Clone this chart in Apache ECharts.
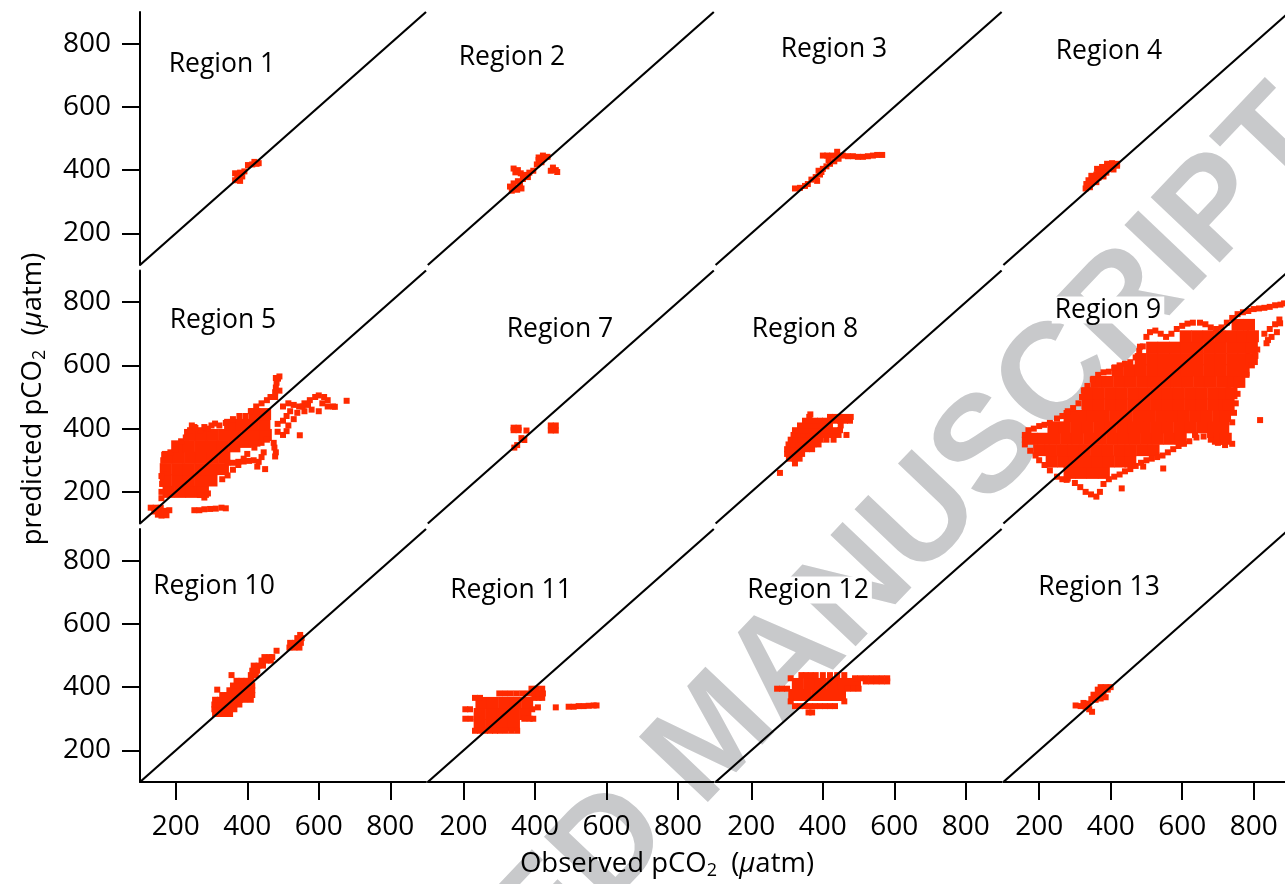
<!DOCTYPE html>
<html>
<head>
<meta charset="utf-8">
<script src="https://cdn.jsdelivr.net/npm/echarts@6/dist/echarts.min.js"></script>
<style>
  html, body { margin: 0; padding: 0; background: #ffffff; }
  #chart { width: 1285px; height: 884px; }
</style>
</head>
<body>
<div id="chart"></div>
<script>
// ---- axis settings (pCO2, µatm) ----
const axisMin = 100;
const axisMax = 900;
const tickValues = [200, 400, 600, 800];

// ---- panel titles, row by row ----
const panelNames = ['Region 1', 'Region 2', 'Region 3', 'Region 4',
                    'Region 5', 'Region 7', 'Region 8', 'Region 9',
                    'Region 10', 'Region 11', 'Region 12', 'Region 13'];

// ---- observed vs predicted pCO2 pairs, [observed, predicted] ----
const r1 = [[366,368],[380,366],[372,378],[386,380],[366,390],[380,392],[392,396],[402,416],[414,418],[426,420],[432,422],[420,426]];

const r2 = [[340,405],[352,400],[345,393],[360,390],[372,385],[384,392],[395,398],[380,378],[366,372],[352,365],[340,358],[330,348],
            [344,345],[358,352],[335,335],[350,338],[362,342],[405,418],[418,425],[410,432],[425,438],[435,442],[422,446],[410,440],
            [444,398],[458,400],[450,408],[462,394]];

const r3 = [[322,342],[336,344],[350,350],[358,356],[368,370],[380,378],[392,386],[388,398],[400,404],[410,412],[420,420],[432,428],
            [444,436],[440,444],[426,446],[412,446],[400,446],[456,446],[470,444],[484,444],[498,442],[512,442],[526,444],[540,446],
            [552,448],[566,448],[440,458],[384,366],[396,394],[416,432]];

const r4 = [[330,342],[342,346],[332,356],[346,358],[360,362],[338,368],[352,372],[366,376],[380,380],[346,382],[360,386],[374,390],
            [388,392],[366,398],[380,400],[394,404],[408,402],[376,410],[390,412],[404,414],[418,414],[390,420],[404,422],[418,420],[362,404]];

const r5Core = [[180,200],[212,200],[244,200],[276,200],
                [172,236],[204,236],[236,236],[268,236],[300,236],
                [172,272],[204,272],[236,272],[268,272],[300,272],[332,272],
                [176,308],[208,308],[240,308],[272,308],[304,308],[336,308],
                [204,344],[236,344],[268,344],[300,344],[332,344],[364,344],[396,358],[420,362],
                [240,380],[272,380],[304,380],[336,380],[368,380],[400,380],[432,380],[452,380],
                [352,412],[384,412],[416,412],[448,412],
                [420,446],[450,446]];
const r5 = [[130,150],[144,150],[158,150],[140,138],[154,136],[168,140],[182,142],[160,125],[174,126],[150,128],
            [160,180],[160,200],[162,225],[160,250],[165,275],[165,300],[170,320],[185,325],[200,335],[215,360],[228,372],
            [240,395],[252,405],[268,395],[290,400],[310,416],[322,410],[340,418],[360,430],[378,440],[395,440],[410,455],
            [425,470],[440,480],[455,490],[465,500],
            [478,500],[478,515],[480,530],[482,545],[486,558],[490,565],[480,560],[490,520],
            [500,470],[515,480],[530,475],[545,470],[560,480],[575,490],[590,500],[600,505],[615,500],[625,490],[640,470],
            [520,455],[540,450],[560,455],[580,460],[600,455],[510,440],[530,430],[500,425],[485,415],[515,410],[555,470],
            [570,475],[610,480],[625,470],[645,469],[678,488],
            [345,292],[360,292],[375,295],[390,296],[405,298],[418,300],[428,280],[432,295],[440,310],[446,325],[450,272],
            [476,340],[480,325],[478,312],[474,355],[500,380],[510,392],[547,379],[485,390],
            [252,142],[266,142],[280,145],[296,146],[312,147],[328,150],[340,148],
            [268,190],[280,182],[290,195],
            [330,240],[345,252],[360,270],[375,285],[390,305],[400,320],[420,340],[440,355],[455,365],
            [245,410],[255,402],[280,405],[300,410]];

const r7 = [[340,395],[354,395],[340,403],[354,403],[376,394],[362,370],[370,364],[342,340],[350,348],
            [444,394],[458,394],[444,410],[458,410],[451,402]];

const r8 = [[322,290],[305,305],[320,305],[335,305],[300,320],[314,320],[328,320],[342,320],
            [300,335],[314,335],[328,335],[342,335],[356,335],[370,335],
            [304,350],[318,350],[332,350],[346,350],[360,350],[374,350],[388,350],
            [310,365],[324,365],[338,365],[352,365],[366,365],[380,365],[394,365],[410,365],[430,365],
            [318,380],[332,380],[346,380],[360,380],[374,380],[388,380],[402,380],[416,380],[430,380],[444,380],[466,380],
            [322,395],[336,395],[350,395],[364,395],[378,395],[392,395],[406,395],[420,395],[434,395],[448,395],
            [336,410],[350,410],[364,410],[378,410],[392,410],[406,410],[420,410],[450,410],
            [350,425],[364,425],[378,425],[392,425],[406,425],[420,425],[434,425],[448,425],[462,425],[476,425],
            [362,437],[420,437],[434,437],[448,437],[462,437],[478,437],[365,445],[280,260]];

const r9Core = [[285,260],[317,260],[349,260],[381,260],
                [235,296],[267,296],[299,296],[331,296],[363,296],[395,296],[427,296],[455,296],
                [200,332],[232,332],[264,332],[296,332],[328,332],[360,332],[392,332],[424,332],[456,332],[488,332],[520,332],
                [180,368],[212,368],[244,368],[276,368],[308,368],[340,368],[372,368],[404,368],[436,368],[468,368],[500,368],
                [532,368],[564,368],[596,368],[700,368],[722,368],
                [240,404],[272,404],[304,404],[336,404],[368,404],[400,404],[432,404],[464,404],[496,404],[528,404],[560,404],
                [592,404],[624,404],[656,404],[688,404],[715,404],
                [285,440],[317,440],[349,440],[381,440],[413,440],[445,440],[477,440],[509,440],[541,440],[573,440],[605,440],
                [637,440],[669,440],[701,440],[720,440],
                [335,476],[367,476],[399,476],[431,476],[463,476],[495,476],[527,476],[559,476],[591,476],[623,476],[655,476],
                [687,476],[719,476],[730,476],
                [335,512],[367,512],[399,512],[431,512],[463,512],[495,512],[527,512],[559,512],[591,512],[623,512],[655,512],
                [687,512],[719,512],[738,512],
                [360,548],[392,548],[424,548],[456,548],[488,548],[520,548],[552,548],[584,548],[616,548],[648,548],[680,548],
                [712,548],[744,548],[760,548],
                [420,584],[452,584],[484,584],[516,584],[548,584],[580,584],[612,584],[644,584],[676,584],[708,584],[740,584],[772,584],
                [484,620],[516,620],[548,620],[580,620],[612,620],[644,620],[676,620],[708,620],[740,620],[772,620],[795,620],
                [516,656],[548,656],[580,656],[612,656],[644,656],[676,656],[708,656],[740,656],[772,656],[795,656],
                [610,692],[642,692],[674,692],[706,692],[738,692],[770,692],[798,692],
                [755,728],[787,728]];
const r9 = [[160,350],[160,365],[160,380],[170,395],[185,400],[200,408],[215,412],[230,418],[250,432],[265,440],[280,455],
            [295,465],[310,480],[320,500],[325,520],[335,535],[350,555],[365,570],[380,578],[395,580],[410,592],[425,600],
            [440,605],[455,610],[470,625],[480,645],[490,660],[500,690],[510,705],[525,710],[540,700],[555,690],[570,700],
            [585,715],[600,725],[615,732],[630,735],[650,735],[665,730],[680,720],[695,715],[710,720],[725,735],[740,750],
            [755,762],[770,768],[785,772],[800,778],[815,780],[830,782],[845,785],[860,790],[875,792],[885,796],
            [175,330],[190,315],[200,300],[215,285],[230,268],[250,248],[265,240],[280,242],[300,228],[315,215],[330,200],
            [345,192],[360,185],[370,200],[380,225],[395,240],[410,248],[425,255],[440,265],[455,272],[470,282],[485,292],
            [500,300],[515,305],[530,310],[545,315],[560,325],[575,335],[590,345],[605,352],[620,360],[640,372],[660,375],
            [680,365],[700,355],[720,348],[740,352],[740,420],[745,450],[750,480],[755,510],[765,540],[780,570],[795,600],
            [805,630],[810,650],
            [818,427],[836,670],[850,690],[865,705],[874,733],[830,700],[845,715],[860,730],[872,745],[840,680],
            [431,211],[491,280],[547,274],[594,354],[636,380],[678,380],[277,238],[482,659],[519,649]];

const r10 = [[310,315],[324,315],[338,315],[352,315],
             [308,330],[322,330],[336,330],[350,330],[364,330],
             [308,345],[322,345],[336,345],[350,345],[364,345],[378,345],
             [310,360],[324,360],[338,360],[352,360],[366,360],[380,360],[394,360],[410,360],
             [330,375],[344,375],[358,375],[372,375],[386,375],[400,375],[414,375],
             [350,390],[364,390],[378,390],[392,390],[406,390],[414,390],[316,392],
             [360,405],[374,405],[388,405],[402,405],[414,405],
             [370,420],[384,420],[398,420],[412,420],
             [356,438],[410,438],[424,438],[414,452],[428,452],
             [418,468],[432,468],[444,468],[440,484],[454,484],[466,484],[448,495],[462,495],[470,495],
             [482,515],[518,525],[532,525],[546,525],[520,540],[534,540],[550,540],[540,555],[552,555],[548,565]];

const r11Core = [[245,280],[277,280],[309,280],[341,280],
                 [245,315],[277,315],[309,315],[341,315],[373,315],
                 [250,350],[282,350],[314,350],[346,350],[378,350]];
const r11 = [[232,262],[246,262],[260,262],[274,262],[288,262],[302,262],[318,262],[334,262],[350,262],
             [205,300],[220,300],[370,300],[385,300],[395,300],
             [205,330],[218,330],[392,330],
             [232,366],[246,366],[398,366],[410,366],[420,366],
             [300,380],[316,380],[332,380],[348,380],[364,380],[380,380],[395,380],[410,380],[422,380],
             [390,395],[405,395],[420,395],
             [408,336],[458,336],[494,338],[508,338],[522,340],[536,340],[550,341],[564,342],[572,342]];

const r12Core = [[320,375],[352,375],[384,375],[416,375],[448,375],
                 [330,410],[362,410],[394,410],[426,410],[458,410],[490,410]];
const r12 = [[322,340],[336,340],[350,340],[364,340],[378,340],[392,340],[406,340],[420,340],[434,340],
             [360,320],[370,320],
             [272,395],[286,395],[300,395],[470,395],[485,395],[500,395],
             [310,355],[460,355],
             [310,428],[490,428],[505,428],[520,428],[535,428],[550,428],[565,428],[580,428],
             [520,418],[535,418],[550,418],[565,418],[580,418],
             [340,438],[352,438],[366,438],[380,438],[400,438],[420,438],[440,438],[460,438]];

const r13 = [[302,342],[316,340],[330,338],[324,350],[338,348],[340,330],[348,322],[346,362],[358,360],[372,364],
             [352,376],[366,376],[380,376],[386,368],[364,392],[378,392],[392,392],[372,400],[386,400],[400,400]];

const panelPoints = [r1, r2, r3, r4, r5, r7, r8, r9, r10, r11, r12, r13];
const panelCore   = [[], [], [], [], r5Core, [], [], r9Core, [], r11Core, r12Core, []];

// ---- layout ----
const colLeft = [140, 427.8, 715.6, 1003.4];
const rowTop = [12, 270.5, 529];
const panelW = 286, panelH = 253;
const labelCenters = [[222, 64], [512, 57], [834, 49], [1109, 51],
                      [223, 320], [560, 329], [805, 329], [1108, 310],
                      [214, 586], [511, 590], [808, 590], [1099, 587]];

const FONT = 'Open Sans';
const RED = '#ff2a00';

const grids = [], xAxes = [], yAxes = [], series = [], graphics = [];

// faint diagonal watermark behind the panels
graphics.push({
  type: 'text', z: 0, x: 716, y: 738, rotation: 46.5 * Math.PI / 180,
  style: {
    text: 'ACCEPTED MANUSCRIPT',
    fontSize: 138, fontWeight: 'bold', fontFamily: 'Liberation Sans',
    fill: '#c8c9cb', align: 'center', verticalAlign: 'middle'
  }
});

panelNames.forEach((name, i) => {
  const row = Math.floor(i / 4), col = i % 4;
  const bottomRow = row === 2, leftCol = col === 0;
  grids.push({ left: colLeft[col], top: rowTop[row], width: panelW, height: panelH,
               containLabel: false, outerBoundsMode: 'none' });
  xAxes.push({
    gridIndex: i, type: 'value', min: axisMin, max: axisMax,
    axisLine: { show: bottomRow, onZero: false, lineStyle: { color: '#000', width: 2 } },
    axisTick: { show: bottomRow, length: 18, customValues: tickValues, lineStyle: { color: '#000', width: 2 } },
    axisLabel: { show: bottomRow, customValues: tickValues, margin: 31, fontSize: 28, fontFamily: FONT, color: '#000' },
    splitLine: { show: false }
  });
  yAxes.push({
    gridIndex: i, type: 'value', min: axisMin, max: axisMax,
    axisLine: { show: leftCol, onZero: false, lineStyle: { color: '#000', width: 2 } },
    axisTick: { show: leftCol, length: 18, customValues: tickValues, lineStyle: { color: '#000', width: 2 } },
    axisLabel: { show: leftCol, customValues: tickValues, margin: 29, fontSize: 28, fontFamily: FONT, color: '#000' },
    splitLine: { show: false }
  });
  if (panelCore[i].length) {
    series.push({ type: 'scatter', xAxisIndex: i, yAxisIndex: i, data: panelCore[i],
                  symbol: 'rect', symbolSize: 12, itemStyle: { color: RED, opacity: 1 }, z: 3, silent: true });
  }
  series.push({ type: 'scatter', xAxisIndex: i, yAxisIndex: i, data: panelPoints[i],
                symbol: 'rect', symbolSize: 6, itemStyle: { color: RED, opacity: 1 }, z: 3, silent: true });
  // 1:1 line
  series.push({ type: 'line', xAxisIndex: i, yAxisIndex: i, data: [[axisMin, axisMin], [axisMax, axisMax]],
                symbol: 'none', lineStyle: { color: '#000', width: 2.2 }, z: 5, silent: true });
  graphics.push({
    type: 'text', z: 50, x: labelCenters[i][0], y: labelCenters[i][1],
    style: { text: name, fontSize: 26.5, fontFamily: FONT, fill: '#000',
             align: 'center', verticalAlign: 'middle', backgroundColor: '#fff', padding: [0, 3] }
  });
});

const titleRich = {
  s: { fontSize: 18, fontFamily: FONT, fill: '#000', verticalAlign: 'bottom' },
  i: { fontSize: 27.5, fontFamily: FONT, fontStyle: 'italic', fill: '#000' }
};
graphics.push({
  type: 'text', z: 50, x: 667, y: 864,
  style: { text: 'Observed pCO{s|2}  ({i|μ}atm)', rich: titleRich, fontSize: 27.5, fontFamily: FONT,
           fill: '#000', align: 'center', verticalAlign: 'middle', lineHeight: 32 }
});
graphics.push({
  type: 'text', z: 50, x: 33, y: 399, rotation: Math.PI / 2,
  style: { text: 'predicted pCO{s|2}  ({i|μ}atm)', rich: titleRich, fontSize: 27.5, fontFamily: FONT,
           fill: '#000', align: 'center', verticalAlign: 'middle', lineHeight: 32 }
});

const chart = echarts.init(document.getElementById('chart'), null, { renderer: 'canvas' });
chart.setOption({
  backgroundColor: '#ffffff',
  animation: false,
  grid: grids,
  xAxis: xAxes,
  yAxis: yAxes,
  series: series,
  graphic: { elements: graphics }
});
</script>
</body>
</html>
